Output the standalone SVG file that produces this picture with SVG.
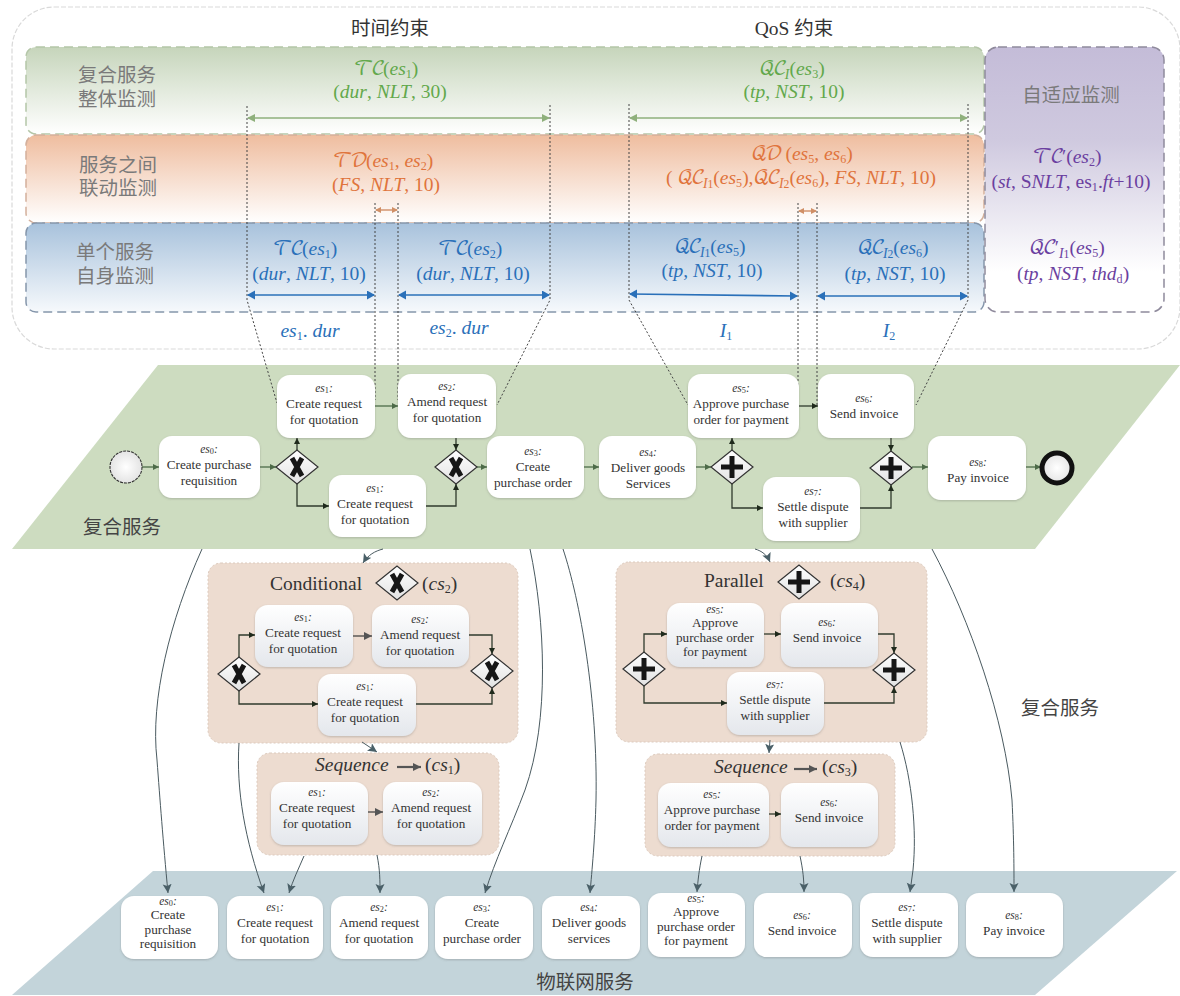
<svg xmlns="http://www.w3.org/2000/svg" width="1180" height="996" viewBox="0 0 1180 996">
<style>
text{font-family:"Liberation Serif","Noto Sans CJK SC",serif;}
.cn{font-family:"Noto Sans CJK SC","Liberation Serif",sans-serif;font-size:19.5px;}
.cl{fill:#7a7a7a;text-anchor:middle;}
.dk{fill:#333;text-anchor:middle;}
.m{font-size:19.5px;text-anchor:middle;}
.g{fill:#62a84b;}.o{fill:#e0743c;}.b{fill:#2a70b9;}.p{fill:#6b3fa0;}
.i{font-style:italic;}
.sc{font-family:"DejaVu Math TeX Gyre","Liberation Serif",serif;font-style:normal;letter-spacing:-2.5px;}
.s{font-size:62%;baseline-shift:-22%;}
.ss{font-size:70%;baseline-shift:-28%;font-style:italic;}
.sss{font-size:60%;baseline-shift:-35%;font-style:normal;}
.t{font-size:13.2px;fill:#333;text-anchor:middle;}
.e{font-size:11.5px;font-style:italic;fill:#333;text-anchor:middle;}
.e tspan{font-size:72%;baseline-shift:-15%;font-style:normal;}
.task{fill:#fff;filter:url(#sh);}
.task2{fill:url(#tg);filter:url(#sh);}
.box{fill:#eddcd0;stroke:#dccabd;stroke-width:1;stroke-dasharray:2 2;}
.band{stroke-width:1.5;stroke-dasharray:9 5;}
.title{font-size:19.5px;fill:#333;}
.f{fill:none;stroke-width:1.3;}
.fg{stroke:#4d6b48;marker-end:url(#mg);}
.fk{stroke:#2f3a2c;marker-end:url(#mk);}
.fb{stroke:#444;marker-end:url(#mb);}
.cv{fill:none;stroke:#4a5a60;stroke-width:1;marker-end:url(#ms);}
.dot{fill:none;stroke:#444;stroke-width:1;stroke-dasharray:2 2;}
.gw{fill:url(#gg);stroke:#333;stroke-width:1.2;}
.mk1{stroke:#161616;stroke-width:5;fill:none;}
</style>
<defs>
<linearGradient id="bg" x1="0" y1="0" x2="0" y2="1"><stop offset="0" stop-color="#c6d5bb"/><stop offset="1" stop-color="#fff"/></linearGradient>
<linearGradient id="bo" x1="0" y1="0" x2="0" y2="1"><stop offset="0" stop-color="#efbd9f"/><stop offset="1" stop-color="#fff"/></linearGradient>
<linearGradient id="bb" x1="0" y1="0" x2="0" y2="1"><stop offset="0" stop-color="#a8c2dc"/><stop offset="1" stop-color="#f6f9fc"/></linearGradient>
<linearGradient id="bp" x1="0" y1="0" x2="0" y2="1"><stop offset="0" stop-color="#c4bcd8"/><stop offset=".35" stop-color="#cfc9df"/><stop offset=".85" stop-color="#fff"/></linearGradient>
<linearGradient id="tg" x1="0" y1="0" x2="0" y2="1"><stop offset="0" stop-color="#fff"/><stop offset="1" stop-color="#e4e7ec"/></linearGradient>
<linearGradient id="gg" x1="0" y1="0" x2="0" y2="1"><stop offset="0" stop-color="#fff"/><stop offset="1" stop-color="#e2e2e2"/></linearGradient>
<radialGradient id="cg"><stop offset="0" stop-color="#fff"/><stop offset="1" stop-color="#e4e4e4"/></radialGradient>
<filter id="sh" x="-10%" y="-10%" width="120%" height="125%"><feDropShadow dx="0" dy="1" stdDeviation="1" flood-color="#555" flood-opacity=".3"/></filter>
<marker id="mg" markerWidth="7" markerHeight="7" refX="6" refY="3" orient="auto" markerUnits="userSpaceOnUse"><path d="M0 0L6 3L0 6z" fill="#4d6b48"/></marker>
<marker id="mk" markerWidth="7" markerHeight="7" refX="6" refY="3" orient="auto" markerUnits="userSpaceOnUse"><path d="M0 0L6 3L0 6z" fill="#1f2a1c"/></marker>
<marker id="mb" markerWidth="9" markerHeight="9" refX="8" refY="4" orient="auto" markerUnits="userSpaceOnUse"><path d="M0 0L8 4L0 8z" fill="#555"/></marker>
<marker id="ms" markerWidth="10" markerHeight="10" refX="9" refY="4.5" orient="auto" markerUnits="userSpaceOnUse"><path d="M0 0L9 4.5L0 9L2 4.5z" fill="#4a6068"/></marker>
<marker id="gs" markerWidth="9" markerHeight="9" refX="7" refY="4" orient="auto-start-reverse" markerUnits="userSpaceOnUse"><path d="M0 0L8 4L0 8z" fill="#8fb07c"/></marker>
<marker id="os" markerWidth="7" markerHeight="7" refX="5" refY="3" orient="auto-start-reverse" markerUnits="userSpaceOnUse"><path d="M0 0L6 3L0 6z" fill="#d08f66"/></marker>
<marker id="bs" markerWidth="9" markerHeight="10" refX="7" refY="4.5" orient="auto-start-reverse" markerUnits="userSpaceOnUse"><path d="M0 0L8 4.5L0 9z" fill="#2a70b9"/></marker>
<g id="gx"><path class="gw" d="M-21 0L0 -17L21 0L0 17z"/><path class="mk1" d="M-5 -9L5 9M5 -9L-5 9"/></g>
<g id="gp"><path class="gw" d="M-21 0L0 -17L21 0L0 17z"/><path class="mk1" d="M-11 0H11M0 -11V11"/></g>
</defs>

<g id="backgrounds">
<rect x="12" y="7" width="1168" height="342" rx="42" fill="#fff" stroke="#d9d9d9" stroke-width="1.2" stroke-dasharray="5 2"/>
<rect class="band" x="26" y="47" width="958" height="87" rx="10" fill="url(#bg)" stroke="#b4c6a8"/>
<rect class="band" x="26" y="135" width="958" height="88" rx="10" fill="url(#bo)" stroke="#d3b09c"/>
<rect class="band" x="26" y="223" width="958" height="89" rx="10" fill="url(#bb)" stroke="#8596ab"/>
<rect class="band" x="985" y="47" width="179" height="265" rx="13" fill="url(#bp)" stroke="#8f8a9c"/>
<path d="M158 365H1180L1035 549H12z" fill="#cddcc0"/>
<path d="M153 871H1177L1035 995H12z" fill="#c3d4da"/>
</g>

<g id="labels-top">
<text class="cn dk" x="390" y="35" style="fill:#333">时间约束</text>
<text class="dk" x="794" y="35" style="font-size:19.5px">QoS <tspan class="cn">约束</tspan></text>
<text class="cn cl" x="117" y="82">复合服务</text>
<text class="cn cl" x="117" y="106">整体监测</text>
<text class="cn cl" x="118" y="172">服务之间</text>
<text class="cn cl" x="118" y="195">联动监测</text>
<text class="cn cl" x="115" y="259">单个服务</text>
<text class="cn cl" x="115" y="283">自身监测</text>
<text class="cn cl" x="1071" y="102">自适应监测</text>

<text class="m g" x="386" y="75"><tspan class="sc">𝒯𝒞</tspan>(<tspan class="i">es</tspan><tspan class="s">1</tspan>)</text>
<text class="m g" x="390" y="98">(<tspan class="i">dur</tspan>, <tspan class="i">NLT</tspan>, 30)</text>
<text class="m g" x="792" y="75"><tspan class="sc">𝒬𝒞</tspan><tspan class="ss">I</tspan>(<tspan class="i">es</tspan><tspan class="s">3</tspan>)</text>
<text class="m g" x="794" y="98">(<tspan class="i">tp</tspan>, <tspan class="i">NST</tspan>, 10)</text>

<text class="m o" x="383" y="167"><tspan class="sc">𝒯𝒟</tspan>(<tspan class="i">es</tspan><tspan class="s">1</tspan>, <tspan class="i">es</tspan><tspan class="s">2</tspan>)</text>
<text class="m o" x="386" y="191">(<tspan class="i">FS</tspan>, <tspan class="i">NLT</tspan>, 10)</text>
<text class="m o" x="802" y="160"><tspan class="sc">𝒬𝒟</tspan> (<tspan class="i">es</tspan><tspan class="s">5</tspan>, <tspan class="i">es</tspan><tspan class="s">6</tspan>)</text>
<text class="m o" x="801" y="184">( <tspan class="sc">𝒬𝒞</tspan><tspan class="ss">I</tspan><tspan class="sss">1</tspan>(<tspan class="i">es</tspan><tspan class="s">5</tspan>),<tspan class="sc">𝒬𝒞</tspan><tspan class="ss">I</tspan><tspan class="sss">2</tspan>(<tspan class="i">es</tspan><tspan class="s">6</tspan>), <tspan class="i">FS</tspan>, <tspan class="i">NLT</tspan>, 10)</text>

<text class="m b" x="305" y="255"><tspan class="sc">𝒯𝒞</tspan>(<tspan class="i">es</tspan><tspan class="s">1</tspan>)</text>
<text class="m b" x="309" y="280">(<tspan class="i">dur</tspan>, <tspan class="i">NLT</tspan>, 10)</text>
<text class="m b" x="470" y="255"><tspan class="sc">𝒯𝒞</tspan>(<tspan class="i">es</tspan><tspan class="s">2</tspan>)</text>
<text class="m b" x="473" y="280">(<tspan class="i">dur</tspan>, <tspan class="i">NLT</tspan>, 10)</text>
<text class="m b" x="710" y="253"><tspan class="sc">𝒬𝒞</tspan><tspan class="ss">I</tspan><tspan class="sss">1</tspan>(<tspan class="i">es</tspan><tspan class="s">5</tspan>)</text>
<text class="m b" x="712" y="277">(<tspan class="i">tp</tspan>, <tspan class="i">NST</tspan>, 10)</text>
<text class="m b" x="893" y="254"><tspan class="sc">𝒬𝒞</tspan><tspan class="ss">I</tspan><tspan class="sss">2</tspan>(<tspan class="i">es</tspan><tspan class="s">6</tspan>)</text>
<text class="m b" x="895" y="280">(<tspan class="i">tp</tspan>, <tspan class="i">NST</tspan>, 10)</text>
<text class="m b" x="310" y="337"><tspan class="i">es</tspan><tspan class="s">1</tspan>. <tspan class="i">dur</tspan></text>
<text class="m b" x="459" y="334"><tspan class="i">es</tspan><tspan class="s">2</tspan>. <tspan class="i">dur</tspan></text>
<text class="m b" x="726" y="337"><tspan class="i">I</tspan><tspan class="s">1</tspan></text>
<text class="m b" x="889" y="337"><tspan class="i">I</tspan><tspan class="s">2</tspan></text>

<text class="m p" x="1067" y="163"><tspan class="sc">𝒯𝒞</tspan>′(<tspan class="i">es</tspan><tspan class="s">2</tspan>)</text>
<text class="m p" x="1071" y="188">(<tspan class="i">st</tspan>, S<tspan class="i">NLT</tspan>, es<tspan class="s">1</tspan>.<tspan class="i">ft</tspan>+10)</text>
<text class="m p" x="1067" y="254"><tspan class="sc">𝒬𝒞</tspan>′<tspan class="ss">I</tspan><tspan class="sss">1</tspan>(<tspan class="i">es</tspan><tspan class="s">5</tspan>)</text>
<text class="m p" x="1073" y="280">(<tspan class="i">tp</tspan>, <tspan class="i">NST</tspan>, <tspan class="i">thd</tspan><tspan class="s">d</tspan>)</text>

<text class="cn dk" x="122" y="534" style="fill:#444">复合服务</text>
<text class="cn dk" x="1060" y="715" style="fill:#444">复合服务</text>
<text class="cn dk" x="585" y="989" style="fill:#444">物联网服务</text>
</g>

<g id="cs2">
<rect class="box" x="208" y="563" width="310" height="180" rx="13"/>
<text class="title" x="270" y="590">Conditional</text>
<use href="#gx" x="397" y="583"/>
<text class="title" x="422" y="590">(<tspan class="i">cs</tspan><tspan class="s">2</tspan>)</text>
</g>
<g id="cs1">
<rect class="box" x="257" y="753" width="242" height="102" rx="13"/>
<text class="title i" x="315" y="771">Sequence</text>
<path d="M397 767H421" fill="none" stroke="#555" stroke-width="2.2" marker-end="url(#mb)"/>
<text class="title" x="425" y="771">(<tspan class="i">cs</tspan><tspan class="s">1</tspan>)</text>
</g>
<g id="cs4">
<rect class="box" x="616" y="562" width="311" height="180" rx="13"/>
<text class="title" x="704" y="587">Parallel</text>
<use href="#gp" x="799" y="582"/>
<text class="title" x="830" y="587">(<tspan class="i">cs</tspan><tspan class="s">4</tspan>)</text>
</g>
<g id="cs3">
<rect class="box" x="645" y="754" width="250" height="102" rx="13"/>
<text class="title i" x="714" y="773">Sequence</text>
<path d="M794 769H817" fill="none" stroke="#555" stroke-width="2.2" marker-end="url(#mb)"/>
<text class="title" x="822" y="773">(<tspan class="i">cs</tspan><tspan class="s">3</tspan>)</text>
</g>

<g id="connectors">
<path class="dot" d="M247 106V300L277 403"/>
<path class="dot" d="M550 105V300L497 405"/>
<path class="dot" d="M375 203V400"/>
<path class="dot" d="M398 203V400"/>
<path class="dot" d="M629 104V300L688 405"/>
<path class="dot" d="M968 104V300L916 405"/>
<path class="dot" d="M798 203V386"/>
<path class="dot" d="M817 203V405"/>
<path d="M248 118H549" stroke="#8fb07c" stroke-width="1.4" marker-start="url(#gs)" marker-end="url(#gs)"/>
<path d="M630 118H967" stroke="#8fb07c" stroke-width="1.4" marker-start="url(#gs)" marker-end="url(#gs)"/>
<path d="M376 210H397" stroke="#d08f66" stroke-width="1.4" marker-start="url(#os)" marker-end="url(#os)"/>
<path d="M799 211H816" stroke="#d08f66" stroke-width="1.4" marker-start="url(#os)" marker-end="url(#os)"/>
<path d="M248 295H374" stroke="#2a70b9" stroke-width="1.6" marker-start="url(#bs)" marker-end="url(#bs)"/>
<path d="M399 295H549" stroke="#2a70b9" stroke-width="1.6" marker-start="url(#bs)" marker-end="url(#bs)"/>
<path d="M630 294L797 296" stroke="#2a70b9" stroke-width="1.6" marker-start="url(#bs)" marker-end="url(#bs)"/>
<path d="M818 296H967" stroke="#2a70b9" stroke-width="1.6" marker-start="url(#bs)" marker-end="url(#bs)"/>

<path class="f fg" d="M142 467H159"/>
<path class="f fg" d="M260 467H276"/>
<path class="f fk" d="M297 450V438"/>
<path class="f fk" d="M297 484V506H329"/>
<path class="f fg" d="M375 406H398"/>
<path class="f fk" d="M456 438V450"/>
<path class="f fk" d="M426 506H456V484"/>
<path class="f fg" d="M477 467H487"/>
<path class="f fg" d="M584 467H599"/>
<path class="f fg" d="M696 467H711"/>
<path class="f fk" d="M732 450V438"/>
<path class="f fk" d="M732 484V508H763"/>
<path class="f fk" d="M799 406H818"/>
<path class="f fk" d="M891 438V451"/>
<path class="f fk" d="M860 508H891V485"/>
<path class="f fg" d="M912 467H928"/>
<path class="f fg" d="M1026 467H1041"/>

<path class="f fk" d="M239 657V635H255"/>
<path class="f fb" d="M353 636H372"/>
<path class="f fk" d="M469 635H492V654"/>
<path class="f fk" d="M239 691V704H318"/>
<path class="f fk" d="M416 704H492V688"/>
<path class="f fb" d="M368 812H383"/>
<path class="f fk" d="M644 652V634H667"/>
<path class="f fk" d="M764 634H781"/>
<path class="f fk" d="M878 634H894V653"/>
<path class="f fk" d="M644 686V703H727"/>
<path class="f fk" d="M824 703H894V687"/>
<path class="f fk" d="M769 814H781"/>

<path class="cv" d="M202 549C170 620 150 700 157 760C160 800 163 840 168 893"/>
<path class="cv" d="M239 743C236 790 245 840 264 893"/>
<path class="cv" d="M304 856C298 870 293 880 289 893"/>
<path class="cv" d="M377 855C380 870 380 880 380 893"/>
<path class="cv" d="M530 549C545 620 550 720 525 790C510 830 495 860 485 893"/>
<path class="cv" d="M563 549C580 600 598 700 596 800C595 840 592 870 590 893"/>
<path class="cv" d="M383 549C375 551 368 555 363 563"/>
<path class="cv" d="M755 549C762 551 767 555 770 562"/>
<path class="cv" d="M932 549C970 620 1005 720 1012 800C1014 840 1014 870 1014 892"/>
<path class="cv" d="M900 742C912 780 917 830 913 870L910 892"/>
<path class="cv" d="M702 856C699 870 698 880 697 892"/>
<path class="cv" d="M800 856C803 870 804 880 804 892"/>
<path class="cv" d="M362 742L377 752"/>
<path class="cv" d="M770 740L769 753"/>
</g>

<g id="start"><circle cx="126" cy="467" r="16" fill="url(#cg)" stroke="#333" stroke-width="1.1" stroke-dasharray="3 1"/></g>
<g id="end"><circle cx="1057" cy="468" r="15" fill="url(#cg)" stroke="#111" stroke-width="5"/></g>
<g id="gw-x1"><use href="#gx" x="297" y="467"/></g>
<g id="gw-x2"><use href="#gx" x="456" y="467"/></g>
<g id="gw-p1"><use href="#gp" x="732" y="467"/></g>
<g id="gw-p2"><use href="#gp" x="891" y="468"/></g>
<g id="gw-cx1"><use href="#gx" x="239" y="674"/></g>
<g id="gw-cx2"><use href="#gx" x="492" y="671"/></g>
<g id="gw-cp1"><use href="#gp" x="644" y="669"/></g>
<g id="gw-cp2"><use href="#gp" x="894" y="670"/></g>

<g id="m-es1"><rect class="task" x="277" y="375" width="98" height="63" rx="13"/><text class="e" x="324" y="392">es<tspan>1</tspan>:</text><text class="t" x="324" y="408">Create request</text><text class="t" x="324" y="424">for quotation</text></g>
<g id="m-es2"><rect class="task" x="398" y="374" width="98" height="64" rx="13"/><text class="e" x="447" y="390">es<tspan>2</tspan>:</text><text class="t" x="447" y="406">Amend request</text><text class="t" x="447" y="422">for quotation</text></g>
<g id="m-es0"><rect class="task" x="159" y="436" width="101" height="62" rx="13"/><text class="e" x="209" y="453">es<tspan>0</tspan>:</text><text class="t" x="209" y="469">Create purchase</text><text class="t" x="209" y="485">requisition</text></g>
<g id="m-es1b"><rect class="task" x="329" y="475" width="97" height="62" rx="13"/><text class="e" x="375" y="492">es<tspan>1</tspan>:</text><text class="t" x="375" y="508">Create request</text><text class="t" x="375" y="524">for quotation</text></g>
<g id="m-es3"><rect class="task" x="487" y="436" width="97" height="62" rx="13"/><text class="e" x="533" y="455">es<tspan>3</tspan>:</text><text class="t" x="533" y="471">Create</text><text class="t" x="533" y="487">purchase order</text></g>
<g id="m-es4"><rect class="task" x="599" y="436" width="97" height="62" rx="13"/><text class="e" x="648" y="456">es<tspan>4</tspan>:</text><text class="t" x="648" y="472">Deliver goods</text><text class="t" x="648" y="488">Services</text></g>
<g id="m-es5"><rect class="task" x="688" y="374" width="111" height="64" rx="13"/><text class="e" x="741" y="392">es<tspan>5</tspan>:</text><text class="t" x="741" y="408">Approve purchase</text><text class="t" x="741" y="424">order for payment</text></g>
<g id="m-es6"><rect class="task" x="818" y="374" width="96" height="64" rx="13"/><text class="e" x="864" y="402">es<tspan>6</tspan>:</text><text class="t" x="864" y="418">Send invoice</text></g>
<g id="m-es7"><rect class="task" x="763" y="477" width="97" height="64" rx="13"/><text class="e" x="813" y="495">es<tspan>7</tspan>:</text><text class="t" x="813" y="511">Settle dispute</text><text class="t" x="813" y="527">with supplier</text></g>
<g id="m-es8"><rect class="task" x="928" y="436" width="98" height="64" rx="13"/><text class="e" x="978" y="466">es<tspan>8</tspan>:</text><text class="t" x="978" y="482">Pay invoice</text></g>

<g id="c2-es1"><rect class="task2" x="255" y="605" width="98" height="62" rx="13"/><text class="e" x="303" y="621">es<tspan>1</tspan>:</text><text class="t" x="303" y="637">Create request</text><text class="t" x="303" y="653">for quotation</text></g>
<g id="c2-es2"><rect class="task2" x="372" y="605" width="97" height="62" rx="13"/><text class="e" x="420" y="623">es<tspan>2</tspan>:</text><text class="t" x="420" y="639">Amend request</text><text class="t" x="420" y="655">for quotation</text></g>
<g id="c2-es1b"><rect class="task2" x="318" y="674" width="98" height="62" rx="13"/><text class="e" x="365" y="690">es<tspan>1</tspan>:</text><text class="t" x="365" y="706">Create request</text><text class="t" x="365" y="722">for quotation</text></g>
<g id="c1-es1"><rect class="task2" x="271" y="782" width="97" height="63" rx="13"/><text class="e" x="317" y="796">es<tspan>1</tspan>:</text><text class="t" x="317" y="812">Create request</text><text class="t" x="317" y="828">for quotation</text></g>
<g id="c1-es2"><rect class="task2" x="383" y="782" width="99" height="63" rx="13"/><text class="e" x="431" y="796">es<tspan>2</tspan>:</text><text class="t" x="431" y="812">Amend request</text><text class="t" x="431" y="828">for quotation</text></g>

<g id="c4-es5"><rect class="task2" x="667" y="603" width="97" height="64" rx="13"/><text class="e" x="715" y="613">es<tspan>5</tspan>:</text><text class="t" x="715" y="627">Approve</text><text class="t" x="715" y="641.7">purchase order</text><text class="t" x="715" y="656.4">for payment</text></g>
<g id="c4-es6"><rect class="task2" x="781" y="603" width="97" height="64" rx="13"/><text class="e" x="827" y="626">es<tspan>6</tspan>:</text><text class="t" x="827" y="642">Send invoice</text></g>
<g id="c4-es7"><rect class="task2" x="727" y="672" width="97" height="63" rx="13"/><text class="e" x="775" y="688">es<tspan>7</tspan>:</text><text class="t" x="775" y="704">Settle dispute</text><text class="t" x="775" y="720">with supplier</text></g>
<g id="c3-es5"><rect class="task2" x="658" y="783" width="111" height="64" rx="13"/><text class="e" x="712" y="798">es<tspan>5</tspan>:</text><text class="t" x="712" y="814">Approve purchase</text><text class="t" x="712" y="830">order for payment</text></g>
<g id="c3-es6"><rect class="task2" x="781" y="783" width="97" height="64" rx="13"/><text class="e" x="829" y="806">es<tspan>6</tspan>:</text><text class="t" x="829" y="822">Send invoice</text></g>

<g id="b-es0"><rect class="task" x="121" y="896" width="97" height="63" rx="13"/><text class="e" x="168" y="905">es<tspan>0</tspan>:</text><text class="t" x="168" y="919">Create</text><text class="t" x="168" y="933.7">purchase</text><text class="t" x="168" y="948.4">requisition</text></g>
<g id="b-es1"><rect class="task" x="227" y="896" width="96" height="63" rx="13"/><text class="e" x="275" y="911">es<tspan>1</tspan>:</text><text class="t" x="275" y="927">Create request</text><text class="t" x="275" y="943">for quotation</text></g>
<g id="b-es2"><rect class="task" x="331" y="896" width="97" height="63" rx="13"/><text class="e" x="379" y="911">es<tspan>2</tspan>:</text><text class="t" x="379" y="927">Amend request</text><text class="t" x="379" y="943">for quotation</text></g>
<g id="b-es3"><rect class="task" x="435" y="896" width="98" height="63" rx="13"/><text class="e" x="482" y="911">es<tspan>3</tspan>:</text><text class="t" x="482" y="927">Create</text><text class="t" x="482" y="943">purchase order</text></g>
<g id="b-es4"><rect class="task" x="542" y="896" width="98" height="63" rx="13"/><text class="e" x="589" y="911">es<tspan>4</tspan>:</text><text class="t" x="589" y="927">Deliver goods</text><text class="t" x="589" y="943">services</text></g>
<g id="b-es5"><rect class="task" x="648" y="893" width="97" height="64" rx="13"/><text class="e" x="696" y="902">es<tspan>5</tspan>:</text><text class="t" x="696" y="916">Approve</text><text class="t" x="696" y="930.7">purchase order</text><text class="t" x="696" y="945.4">for payment</text></g>
<g id="b-es6"><rect class="task" x="754" y="893" width="98" height="64" rx="13"/><text class="e" x="802" y="919">es<tspan>6</tspan>:</text><text class="t" x="802" y="935">Send invoice</text></g>
<g id="b-es7"><rect class="task" x="860" y="893" width="98" height="64" rx="13"/><text class="e" x="907" y="911">es<tspan>7</tspan>:</text><text class="t" x="907" y="927">Settle dispute</text><text class="t" x="907" y="943">with supplier</text></g>
<g id="b-es8"><rect class="task" x="966" y="893" width="97" height="64" rx="13"/><text class="e" x="1014" y="919">es<tspan>8</tspan>:</text><text class="t" x="1014" y="935">Pay invoice</text></g>
</svg>
